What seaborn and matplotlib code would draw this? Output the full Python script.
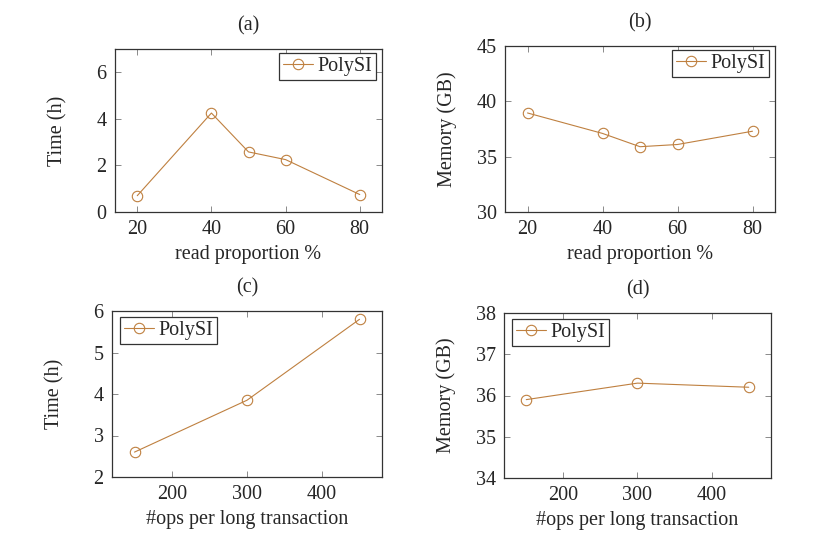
import pandas as pd
import matplotlib
matplotlib.use('Agg')
import matplotlib.pyplot as plt
import seaborn as sns

# data
read_prop = [20, 40, 50, 60, 80]
time_read = [0.7, 4.25, 2.58, 2.25, 0.75]
mem_read = [38.95, 37.1, 35.9, 36.1, 37.3]

ops_long = [150, 300, 450]
time_ops = [2.6, 3.85, 5.8]
mem_ops = [35.9, 36.3, 36.2]

sns.set_theme(style='ticks')
plt.rcParams['font.family'] = ['Liberation Serif', 'DejaVu Serif']

color = '#BF8040'
fs = 14.5

fig = plt.figure(figsize=(8.24, 5.52), dpi=100)

panels = [
    # rect (px), x, y, xlabel, ylabel, title, xlim, ylim, xticks, yticks, legend corner
    ((115, 49, 382, 212), read_prop, time_read, 'read proportion %', 'Time (h)', '(a)',
     (14, 86), (0, 7), [20, 40, 60, 80], [0, 2, 4, 6], 'upper right'),
    ((505, 46, 775, 212), read_prop, mem_read, 'read proportion %', 'Memory (GB)', '(b)',
     (14, 86), (30, 45), [20, 40, 60, 80], [30, 35, 40, 45], 'upper right'),
    ((112, 311, 382, 477), ops_long, time_ops, '#ops per long transaction', 'Time (h)', '(c)',
     (120, 480), (2, 6), [200, 300, 400], [2, 3, 4, 5, 6], 'upper left'),
    ((504, 313, 771, 478), ops_long, mem_ops, '#ops per long transaction', 'Memory (GB)', '(d)',
     (120, 480), (34, 38), [200, 300, 400], [34, 35, 36, 37, 38], 'upper left'),
]

W, H = 824, 552
for (l, t, r, b), xs, ys, xl, yl, title, xlim, ylim, xt, yt, loc in panels:
    w, h = r - l, b - t
    ax = fig.add_axes([l / W, (H - b) / H, w / W, h / H])
    df = pd.DataFrame({'x': xs, 'y': ys})
    sns.lineplot(data=df, x='x', y='y', ax=ax, color=color, linewidth=0.8,
                 marker='o', markersize=7.5, markerfacecolor='none',
                 markeredgecolor=color, markeredgewidth=0.8, label='PolySI')
    ax.set_xlim(*xlim)
    ax.set_ylim(*ylim)
    ax.set_xticks(xt)
    ax.set_yticks(yt)
    ax.set_xlabel(xl, fontsize=fs)
    ax.set_ylabel(yl, fontsize=fs)
    ax.yaxis.set_label_coords(-48 / w, 0.5)
    ax.xaxis.set_label_coords(0.5, -33 / h)
    ax.set_title(title, fontsize=fs, pad=13)
    ax.tick_params(direction='in', top=True, right=True, length=4, width=0.6,
                   color='#777777', labelsize=fs, pad=6)
    for s in ax.spines.values():
        s.set_linewidth(0.9)
        s.set_color('#333333')
    if loc == 'upper right':
        anchor = (1 - 6 / w, 1 - 4 / h)
    else:
        anchor = (8 / w, 1 - 6 / h)
    leg = ax.legend(loc=loc, bbox_to_anchor=anchor, fontsize=fs, frameon=True,
                    fancybox=False, edgecolor='#333333', framealpha=1,
                    handlelength=1.5, borderpad=0.2, handletextpad=0.2,
                    borderaxespad=0)
    leg.get_frame().set_linewidth(0.9)

fig.savefig('out.png', dpi=100)
